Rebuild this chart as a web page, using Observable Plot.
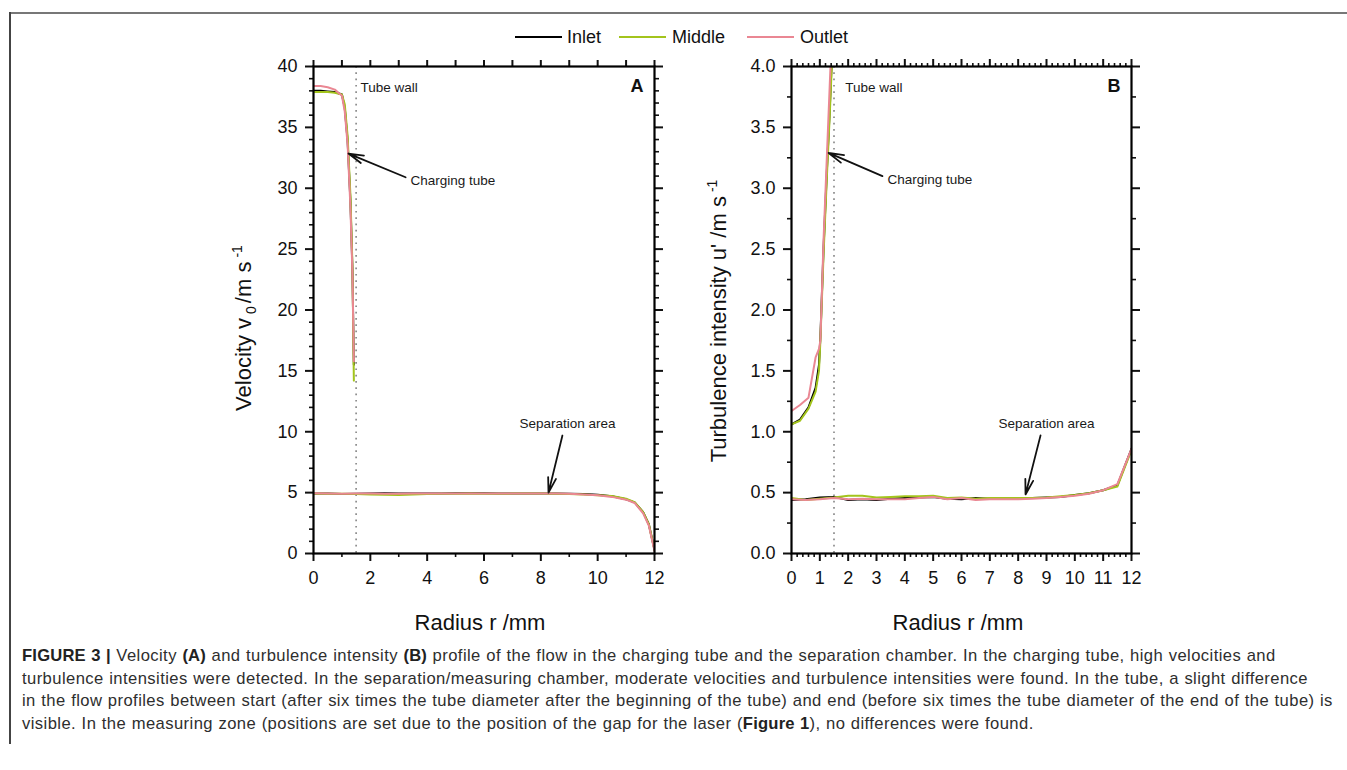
<!DOCTYPE html>
<html><head><meta charset="utf-8">
<script src="https://cdn.jsdelivr.net/npm/d3@7"></script>
<script src="https://cdn.jsdelivr.net/npm/@observablehq/plot@0.6"></script>
<style>
body{margin:0;background:#fff;font-family:"Liberation Sans",Arial,Helvetica,sans-serif;}
#root{position:relative;width:1347px;height:770px;overflow:hidden;background:#fff;}
.frameTop{position:absolute;left:9px;top:12px;width:1340px;height:2px;background:#777;}
.frameLeft{position:absolute;left:9px;top:12px;width:2px;height:732px;background:#444;}
.leg{position:absolute;top:26px;height:22px;font-size:18px;line-height:22px;color:#111;white-space:nowrap;}
.legline{position:absolute;top:36px;height:2px;width:47px;}
.panel{position:absolute;top:30px;}
#caption{position:absolute;left:22px;top:645px;font-size:16.6px;letter-spacing:0.42px;word-spacing:0.5px;line-height:22.5px;color:#2e2e2e;white-space:nowrap;}
#caption b{color:#222;letter-spacing:0.2px;}
</style></head><body><div id="root">
<div class="frameTop"></div><div class="frameLeft"></div>
<div id="legend"></div>
<div id="pa" class="panel" style="left:210px"></div>
<div id="pb" class="panel" style="left:690px"></div>
<div id="caption"><b>FIGURE 3 |</b> Velocity <b>(A)</b> and turbulence intensity <b>(B)</b> profile of the flow in the charging tube and the separation chamber. In the charging tube, high velocities and<br>turbulence intensities were detected. In the separation/measuring chamber, moderate velocities and turbulence intensities were found. In the tube, a slight difference<br>in the flow profiles between start (after six times the tube diameter after the beginning of the tube) and end (before six times the tube diameter of the end of the tube) is<br>visible. In the measuring zone (positions are set due to the position of the gap for the laser (<b>Figure 1</b>), no differences were found.</div>
</div>
<script>
// ---------- data ----------
const series = ["Inlet", "Middle", "Outlet"];
const colors = ["#000000", "#a3c41c", "#ea8793"];

// Panel A: velocity v0 (m/s)
const rTubeA = [0, 0.25, 0.5, 0.75, 1.0, 1.1, 1.2, 1.3, 1.37, 1.42];
const vTubeInlet  = [38.0, 38.0, 37.95, 37.9, 37.7, 36.6, 33.9, 28.9, 23.3, 15.5];
const vTubeMiddle = [37.9, 37.9, 37.9, 37.85, 37.7, 36.9, 34.3, 29.4, 23.6, 14.2];
const vTubeOutlet = [38.4, 38.4, 38.3, 38.1, 37.6, 36.3, 33.6, 28.4, 23.0, 15.8];

const rSepA = [0,0.5,1,1.5,2,2.5,3,3.5,4,4.5,5,5.5,6,6.5,7,7.5,8,8.5,9,9.5,10,10.5,11,11.3,11.6,11.8,12];
const vSepInlet  = [4.93,4.92,4.88,4.9,4.93,4.95,4.93,4.92,4.93,4.92,4.94,4.95,4.95,4.93,4.92,4.93,4.93,4.92,4.9,4.88,4.82,4.7,4.45,4.2,3.4,2.4,0.3];
const vSepMiddle = [4.92,4.9,4.9,4.88,4.85,4.82,4.8,4.85,4.88,4.9,4.9,4.92,4.9,4.9,4.92,4.92,4.92,4.9,4.88,4.85,4.78,4.72,4.5,4.22,3.4,2.4,0.3];
const vSepOutlet = [4.94,4.92,4.9,4.92,4.92,4.9,4.9,4.92,4.92,4.92,4.93,4.93,4.93,4.93,4.92,4.93,4.93,4.92,4.9,4.85,4.78,4.65,4.42,4.15,3.3,2.3,0.2];

// Panel B: turbulence intensity u' (m/s)
const rTubeB = [0, 0.3, 0.6, 0.85, 0.97, 1.02, 1.13, 1.25, 1.35, 1.5];
const uTubeInlet  = [1.06, 1.1, 1.2, 1.36, 1.55, 1.78, 2.5, 3.15, 3.65, 4.5];
const uTubeMiddle = [1.06, 1.09, 1.19, 1.33, 1.5, 1.75, 2.45, 3.1, 3.6, 4.45];
const uTubeOutlet = [1.17, 1.22, 1.28, 1.61, 1.68, 1.75, 2.57, 3.27, 3.85, 4.7];

const rSepB = [0,0.5,1,1.5,2,2.5,3,3.5,4,4.5,5,5.5,6,6.5,7,7.5,8,8.5,9,9.5,10,10.5,11,11.5,12];
const uSepInlet  = [0.44,0.445,0.46,0.465,0.44,0.445,0.44,0.45,0.455,0.46,0.465,0.45,0.445,0.455,0.45,0.455,0.455,0.455,0.46,0.465,0.48,0.495,0.52,0.56,0.86];
const uSepMiddle = [0.455,0.44,0.45,0.46,0.475,0.475,0.46,0.465,0.47,0.47,0.475,0.455,0.46,0.45,0.455,0.455,0.455,0.455,0.46,0.47,0.48,0.495,0.52,0.55,0.85];
const uSepOutlet = [0.445,0.44,0.445,0.455,0.445,0.45,0.445,0.445,0.445,0.455,0.465,0.445,0.455,0.44,0.445,0.445,0.445,0.45,0.455,0.465,0.475,0.49,0.52,0.57,0.86];

// annotations (data coordinates)
const annotA = [
  {label: "Tube wall", x: 1.65, y: 38.3, anchor: "start"},
  {label: "Charging tube", x: 3.41, y: 30.6, anchor: "start"},
  {label: "Separation area", x: 8.94, y: 10.68, anchor: "middle"}
];
const arrowsA = [
  {x1: 3.24, y1: 30.9, x2: 1.23, y2: 32.85},
  {x1: 8.76, y1: 9.69, x2: 8.27, y2: 5.0}
];
const annotB = [
  {label: "Tube wall", x: 1.9, y: 3.83, anchor: "start"},
  {label: "Charging tube", x: 3.39, y: 3.07, anchor: "start"},
  {label: "Separation area", x: 9.0, y: 1.07, anchor: "middle"}
];
const arrowsB = [
  {x1: 3.21, y1: 3.10, x2: 1.31, y2: 3.29},
  {x1: 8.79, y1: 0.97, x2: 8.26, y2: 0.485}
];
const tubeWall = [1.5];

// ---------- build rows ----------
function rows(rT, tubeVals, rS, sepVals) {
  const out = [];
  series.forEach((s, i) => {
    rT.forEach((r, j) => out.push({r, v: tubeVals[i][j], series: s, key: s + "-tube"}));
    rS.forEach((r, j) => out.push({r, v: sepVals[i][j], series: s, key: s + "-sep"}));
  });
  return out;
}
const rowsA = rows(rTubeA, [vTubeInlet, vTubeMiddle, vTubeOutlet], rSepA, [vSepInlet, vSepMiddle, vSepOutlet]);
const rowsB = rows(rTubeB, [uTubeInlet, uTubeMiddle, uTubeOutlet], rSepB, [uSepInlet, uSepMiddle, uSepOutlet]);

const FONT = '"Liberation Sans", Arial, Helvetica, sans-serif';
const blank = () => "";

function panel(o) {
  const svg = Plot.plot({
    width: o.width, height: 610,
    marginLeft: o.marginLeft, marginRight: 16, marginTop: 36, marginBottom: 87,
    x: {domain: [0, 12]},
    y: {domain: o.yDomain},
    color: {domain: series, range: colors},
    style: {fontFamily: FONT, background: "transparent", overflow: "visible", color: "#111"},
    marks: [
      Plot.ruleX(tubeWall, {stroke: "#8c8c8c", strokeWidth: 1.7, strokeDasharray: "1.7,4.6"}),
      Plot.line(o.rows, {x: "r", y: "v", z: "key", stroke: "series", strokeWidth: 2, clip: true}),
      Plot.arrow(o.arrows, {x1: "x1", y1: "y1", x2: "x2", y2: "y2", stroke: "#111", strokeWidth: 1.8, headLength: 13, headAngle: 30}),
      Plot.text(o.annot.filter(d => d.anchor === "start"), {x: "x", y: "y", text: "label", textAnchor: "start", fontSize: 13.5, fill: "#1a1a1a"}),
      Plot.text(o.annot.filter(d => d.anchor === "middle"), {x: "x", y: "y", text: "label", textAnchor: "middle", fontSize: 13.5, fill: "#1a1a1a"}),
      Plot.text([o.letter], {frameAnchor: "top-right", dx: -11, dy: 13, lineAnchor: "top", fontSize: 18, fontWeight: "bold", fill: "#111"}),
      // bottom axis
      Plot.axisX(o.xMajor, {anchor: "bottom", tickSize: 8, tickPadding: 10, strokeWidth: 2, fontSize: 18, label: null, tickFormat: d => String(d)}),
      Plot.axisX(o.xMinor, {anchor: "bottom", tickSize: 4, strokeWidth: 1.6, label: null, tickFormat: blank}),
      // top axis (ticks only)
      Plot.axisX(o.xTopMajor, {anchor: "top", tickSize: o.topMajorSize, strokeWidth: 2, label: null, tickFormat: blank}),
      Plot.axisX(o.xTopMinor, {anchor: "top", tickSize: 4, strokeWidth: 1.6, label: null, tickFormat: blank}),
      // left axis
      Plot.axisY(o.yMajor, {anchor: "left", tickSize: 8, tickPadding: 8, strokeWidth: 2, fontSize: 18, label: null, tickFormat: o.yFormat}),
      Plot.axisY(o.yMinor, {anchor: "left", tickSize: 4, strokeWidth: 1.6, label: null, tickFormat: blank}),
      // right axis (ticks only)
      Plot.axisY(o.yMajor, {anchor: "right", tickSize: 8, strokeWidth: 2, label: null, tickFormat: blank}),
      Plot.axisY(o.yMinor, {anchor: "right", tickSize: 4, strokeWidth: 1.6, label: null, tickFormat: blank}),
      Plot.frame({stroke: "#000", strokeWidth: 2.2})
    ]
  });
  const s = d3.select(svg);
  // y label with sub/superscripts
  const t = s.append("text")
    .attr("transform", `translate(${o.yLabelX},${o.yLabelY}) rotate(-90)`)
    .attr("text-anchor", "middle").attr("font-size", 22).attr("fill", "#111")
    .attr("font-family", FONT);
  t.append("tspan").text(o.yLabelMain);
  if (o.yLabelSub) t.append("tspan").attr("font-size", 14).attr("dx", 4).attr("dy", 5).text(o.yLabelSub);
  t.append("tspan").attr("dx", o.yLabelSub ? 3 : 0).attr("dy", o.yLabelSub ? -5 : 0).text(o.yLabelMid);
  t.append("tspan").attr("font-size", 14).attr("dx", 4).attr("dy", -9).text("-1");
  s.append("text")
    .attr("x", o.xLabelX).attr("y", 600)
    .attr("text-anchor", "middle").attr("font-size", 22).attr("fill", "#111")
    .attr("font-family", FONT).text("Radius r /mm");
  return svg;
}

const range = (a, b, s) => d3.range(a, b + 1e-9, s).map(v => +v.toFixed(3));

document.getElementById("pa").appendChild(panel({
  width: 460, marginLeft: 103, rows: rowsA, yDomain: [0, 40],
  xMajor: range(0, 12, 2), xMinor: range(1, 11, 2),
  xTopMajor: range(0, 12, 1), xTopMinor: [], topMajorSize: 7,
  yMajor: range(0, 40, 5), yMinor: range(0, 40, 1).filter(v => v % 5 !== 0),
  yFormat: d => String(d),
  annot: annotA, arrows: arrowsA, letter: "A",
  yLabelX: 41, yLabelY: 298, yLabelMain: "Velocity v", yLabelSub: "0", yLabelMid: "/m s",
  xLabelX: 270
}));

document.getElementById("pb").appendChild(panel({
  width: 457, marginLeft: 101, rows: rowsB, yDomain: [0, 4],
  xMajor: range(0, 12, 1), xMinor: range(0, 12, 0.2).filter(v => Math.abs(v - Math.round(v)) > 1e-6),
  xTopMajor: range(0, 12, 1), xTopMinor: range(0, 12, 0.2).filter(v => Math.abs(v - Math.round(v)) > 1e-6), topMajorSize: 8,
  yMajor: range(0, 4, 0.5), yMinor: range(0.25, 3.75, 0.5),
  yFormat: d3.format(".1f"),
  annot: annotB, arrows: arrowsB, letter: "B",
  yLabelX: 36, yLabelY: 291, yLabelMain: "Turbulence intensity u' /m s", yLabelSub: "", yLabelMid: "",
  xLabelX: 268
}));

// legend
const legend = document.getElementById("legend");
const legItems = [
  {s: "Inlet", lx: 515, tx: 567},
  {s: "Middle", lx: 619, tx: 672},
  {s: "Outlet", lx: 747, tx: 800}
];
legItems.forEach((it) => {
  const l = document.createElement("div");
  l.className = "legline"; l.style.left = it.lx + "px"; l.style.background = colors[series.indexOf(it.s)];
  legend.appendChild(l);
  const t = document.createElement("div");
  t.className = "leg"; t.style.left = it.tx + "px"; t.textContent = it.s;
  legend.appendChild(t);
});
</script></body></html>
